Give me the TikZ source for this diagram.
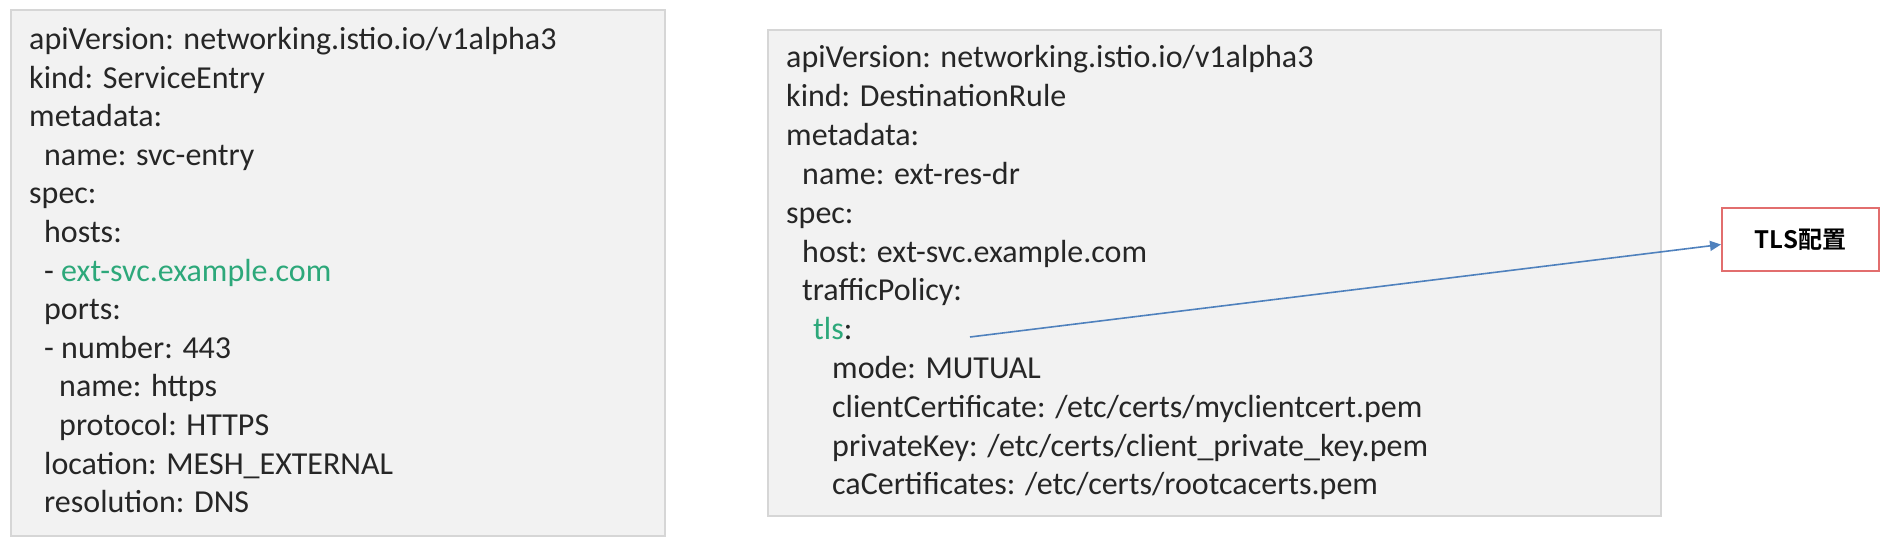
\documentclass[tikz,border=0pt]{standalone}
\usepackage{fontspec}
\usetikzlibrary{arrows.meta}
\newfontfamily\codefont{Carlito}
\newfontfamily\cjkbold{Noto Sans CJK SC}[BoldFont={Noto Sans CJK SC Bold}]
\definecolor{codegray}{RGB}{38,38,38}
\definecolor{hlgreen}{RGB}{45,168,122}
\definecolor{boxfill}{RGB}{242,242,242}
\definecolor{boxline}{RGB}{214,214,214}
\definecolor{arrowblue}{RGB}{79,129,189}
\definecolor{tlsred}{RGB}{226,110,110}
\tikzset{
  codeline/.style={anchor=base west, inner sep=0pt, font=\codefont\fontsize{32}{38}\selectfont, text=codegray},
  yamlbox/.style={draw=boxline, line width=2.5pt, fill=boxfill},
  labelbox/.style={draw=tlsred, line width=2pt, fill=white, minimum width=157pt, minimum height=63pt, inner sep=0pt, font=\cjkbold\bfseries\fontsize{24}{28}\selectfont, text=black},
  linkarrow/.style={draw=arrowblue, line width=1.6pt, -{Triangle[length=11pt,width=10pt]}}
}
\begin{document}
\begin{tikzpicture}[x=1pt,y=-1pt]
\useasboundingbox (0,0) rectangle (1888,548);
\fill[white] (0,0) rectangle (1888,548);
% boxes
\draw[yamlbox] (11,10) rectangle (665,536);
\draw[yamlbox] (768,30) rectangle (1661,516);
% left box text
\node[codeline] (l1) at (29,49.5) {apiVersion: networking.istio.io/v1alpha3};
\node[codeline] (l2) at (29,88.1) {kind: ServiceEntry};
\node[codeline] (l3) at (29,126.7) {metadata:};
\node[codeline] (l4) at (44,165.3) {name: svc-entry};
\node[codeline] (l5) at (29,203.9) {spec:};
\node[codeline] (l6) at (44,242.5) {hosts:};
\node[codeline] (l7) at (44,281.1) {- \textcolor{hlgreen}{ext-svc.example.com}};
\node[codeline] (l8) at (44,319.7) {ports:};
\node[codeline] (l9) at (44,358.3) {- number: 443};
\node[codeline] (l10) at (59,396.9) {name: https};
\node[codeline] (l11) at (59,435.5) {protocol: HTTPS};
\node[codeline] (l12) at (44,474.1) {location: MESH\_EXTERNAL};
\node[codeline] (l13) at (44,512.7) {resolution: DNS};
% right box text
\node[codeline] (r1) at (786,68) {apiVersion: networking.istio.io/v1alpha3};
\node[codeline] (r2) at (786,106.8) {kind: DestinationRule};
\node[codeline] (r3) at (786,145.6) {metadata:};
\node[codeline] (r4) at (802,184.4) {name: ext-res-dr};
\node[codeline] (r5) at (786,223.2) {spec:};
\node[codeline] (r6) at (802,262) {host: ext-svc.example.com};
\node[codeline] (r7) at (802,300.8) {trafficPolicy:};
\node[codeline] (r8) at (813,339.6) {\textcolor{hlgreen}{tls}:};
\node[codeline] (r9) at (832,378.4) {mode: MUTUAL};
\node[codeline] (r10) at (832,417.2) {clientCertificate: /etc/certs/myclientcert.pem};
\node[codeline] (r11) at (832,456) {privateKey: /etc/certs/client\_private\_key.pem};
\node[codeline] (r12) at (832,494.8) {caCertificates: /etc/certs/rootcacerts.pem};
% label
\node[labelbox] (tls) at (1800.5,239.5) {TLS配置};
\coordinate (tlsstart) at (970,337);
\draw[linkarrow] (tlsstart) -- ([yshift=-5pt]tls.west);
\end{tikzpicture}
\end{document}
